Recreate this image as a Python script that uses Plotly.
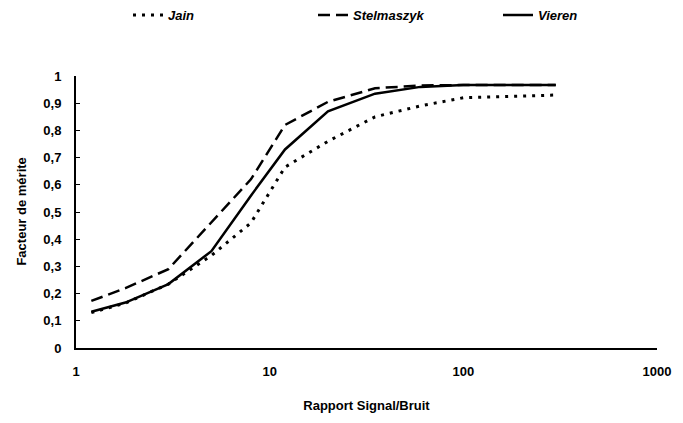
import plotly.graph_objects as go

snr = [1.2, 1.8, 3, 5, 8, 12, 20, 35, 60, 100, 300]
jain = [0.13, 0.165, 0.235, 0.34, 0.46, 0.665, 0.76, 0.85, 0.89, 0.92, 0.93]
stelmaszyk = [0.173, 0.22, 0.29, 0.46, 0.62, 0.82, 0.905, 0.955, 0.965, 0.967, 0.967]
vieren = [0.133, 0.167, 0.235, 0.356, 0.56, 0.73, 0.87, 0.935, 0.96, 0.967, 0.967]

y_tickvals = [0, 0.1, 0.2, 0.3, 0.4, 0.5, 0.6, 0.7, 0.8, 0.9, 1]
y_ticktext = ["0", "0,1", "0,2", "0,3", "0,4", "0,5", "0,6", "0,7", "0,8", "0,9", "1"]
x_tickvals = [1, 10, 100, 1000]
x_ticktext = ["1", "10", "100", "1000"]

FONT = "Liberation Sans"

fig = go.Figure()
fig.add_trace(go.Scatter(x=snr, y=jain, mode="lines", name="Jain",
                         line=dict(color="black", width=3, dash="3px,6px")))
fig.add_trace(go.Scatter(x=snr, y=stelmaszyk, mode="lines", name="Stelmaszyk",
                         line=dict(color="black", width=2.5, dash="12px,6px")))
fig.add_trace(go.Scatter(x=snr, y=vieren, mode="lines", name="Vieren",
                         line=dict(color="black", width=2.5)))

fig.update_layout(
    width=675, height=415,
    margin=dict(l=68, r=20, t=68, b=74),
    paper_bgcolor="white", plot_bgcolor="white",
    font=dict(family=FONT, color="black", size=13),
    showlegend=True,
    legend=dict(orientation="h", x=0.222, xanchor="left", y=0.983, yanchor="middle",
                yref="container", entrywidth=140, entrywidthmode="pixels",
                font=dict(family=FONT, size=13, weight="bold", style="italic"),
                bgcolor="rgba(0,0,0,0)"),
    xaxis=dict(type="log", range=[0, 3], tickvals=x_tickvals, ticktext=x_ticktext,
               showgrid=False, zeroline=False, showline=True, linecolor="black",
               linewidth=2, ticks="", ticklabelstandoff=10,
               tickfont=dict(family=FONT, size=13, weight="bold"),
               title=dict(text="Rapport Signal/Bruit", standoff=23,
                          font=dict(family=FONT, size=13, weight="bold"))),
    yaxis=dict(range=[0, 1], tickvals=y_tickvals, ticktext=y_ticktext,
               showgrid=False, zeroline=False, showline=True, linecolor="black",
               linewidth=2, ticks="inside", ticklen=4, tickcolor="black",
               ticklabelstandoff=10,
               tickfont=dict(family=FONT, size=13, weight="bold")),
    annotations=[dict(text="Facteur de mérite", xref="paper", yref="paper",
                      x=-56 / 587, y=0.5, xanchor="center", yanchor="middle",
                      textangle=-90, showarrow=False,
                      font=dict(family=FONT, size=13, weight="bold"))],
)

fig.write_html("out.html")
